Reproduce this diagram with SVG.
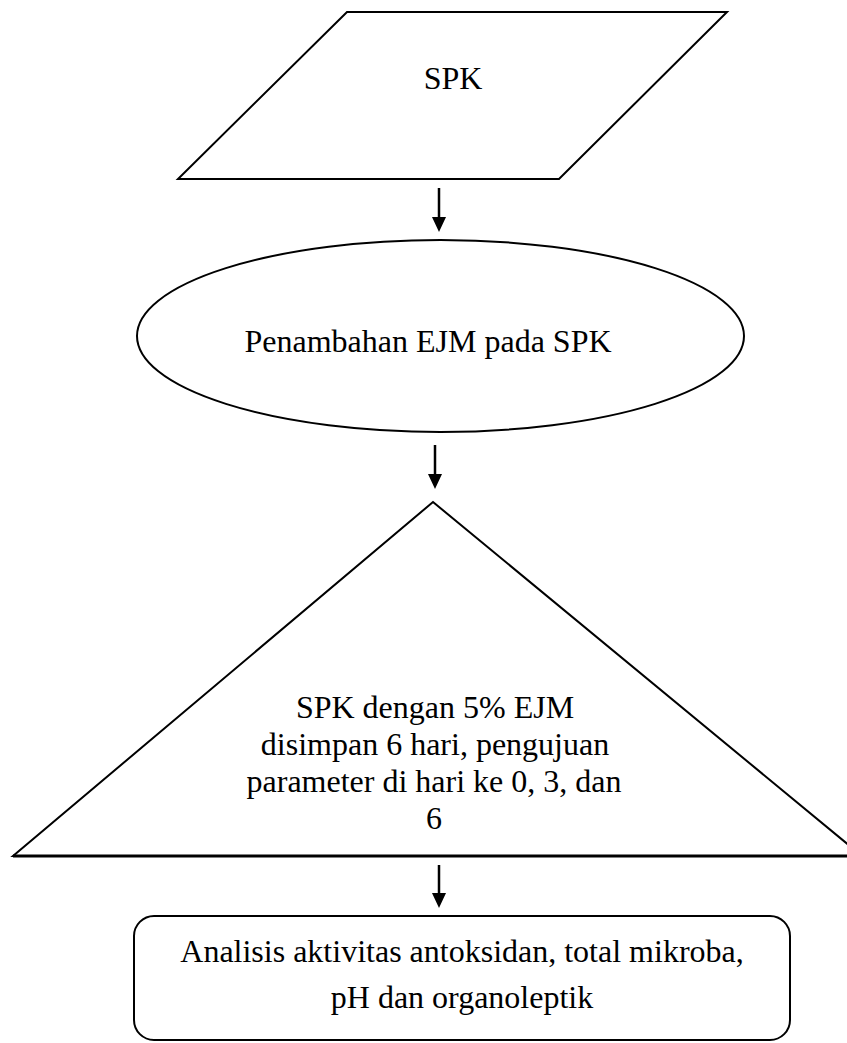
<svg xmlns="http://www.w3.org/2000/svg" width="847" height="1043" viewBox="0 0 847 1043">
<style>
.shape{fill:#fff;stroke:#000;stroke-width:2}
.lbl{font-family:"Liberation Serif","Times New Roman",serif;font-size:32px;fill:#000;text-anchor:middle}
.conn{stroke:#000;stroke-width:2.5;fill:none}
</style>
<defs>
<marker id="ah" viewBox="0 0 14 15" refX="7" refY="15" markerWidth="14" markerHeight="15" markerUnits="userSpaceOnUse" orient="auto-start-reverse">
<path d="M0,0 L14,0 L7,15 Z" fill="#000"/>
</marker>
</defs>
<rect width="847" height="1043" fill="#fff"/>
<g id="node-spk">
<polygon class="shape" points="347,12 727,12 559,179 178,179"/>
<text class="lbl" x="453" y="89">SPK</text>
</g>
<g id="node-penambahan">
<ellipse class="shape" cx="440.5" cy="336" rx="303.5" ry="96"/>
<text class="lbl" x="428" y="352">Penambahan EJM pada SPK</text>
</g>
<g id="node-simpan">
<polygon class="shape" points="433,502 862,856 13,856"/>
<line x1="13" y1="856" x2="847" y2="856" stroke="#000" stroke-width="3"/>
<text class="lbl" x="435" y="718">SPK dengan 5% EJM</text>
<text class="lbl" x="435" y="755">disimpan 6 hari, pengujuan</text>
<text class="lbl" x="434" y="792">parameter di hari ke 0, 3, dan</text>
<text class="lbl" x="434" y="829">6</text>
</g>
<g id="node-analisis">
<rect class="shape" x="134" y="916" width="656" height="124" rx="20" ry="20"/>
<text class="lbl" x="462" y="962">Analisis aktivitas antoksidan, total mikroba,</text>
<text class="lbl" x="462" y="1008">pH dan organoleptik</text>
</g>
<g id="connectors">
<path class="conn" d="M439,188 L439,218"/>
<path d="M432,217 L446,217 L439,232 Z" fill="#000"/>
<path class="conn" d="M435,445 L435,475"/>
<path d="M428,474 L442,474 L435,489 Z" fill="#000"/>
<path class="conn" d="M439,865 L439,894"/>
<path d="M432,893 L446,893 L439,908 Z" fill="#000"/>
</g>
</svg>
